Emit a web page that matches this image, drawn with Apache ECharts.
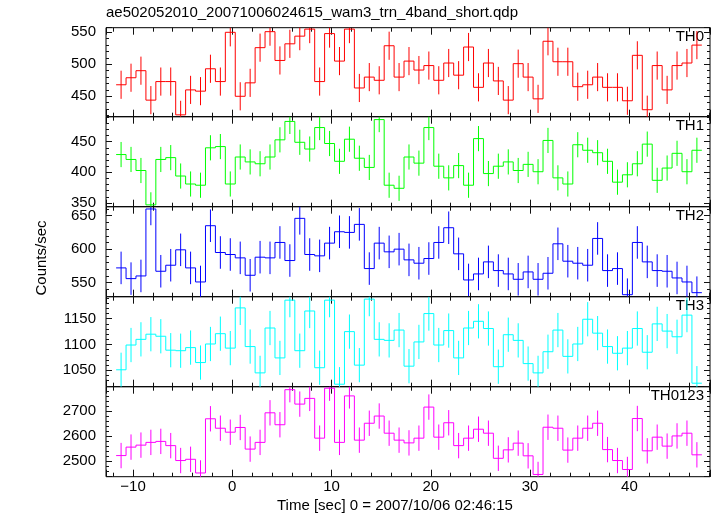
<!DOCTYPE html>
<html><head><meta charset="utf-8">
<script src="https://cdn.jsdelivr.net/npm/echarts@6/dist/echarts.min.js"></script>
<style>html,body{margin:0;padding:0;background:#fff}#c{width:717px;height:516px}</style>
</head><body><div id="c"></div>
<script>
// bin centre times [sec]
const time = [-11.2,-10.2,-9.2,-8.2,-7.2,-6.2,-5.2,-4.2,-3.2,-2.2,
  -1.2,-0.2,0.8,1.8,2.8,3.8,4.8,5.8,6.8,7.8,
  8.8,9.8,10.8,11.8,12.8,13.8,14.8,15.8,16.8,17.8,
  18.8,19.8,20.8,21.8,22.8,23.8,24.8,25.8,26.8,27.8,
  28.8,29.8,30.8,31.8,32.8,33.8,34.8,35.8,36.8,37.8,
  38.8,39.8,40.8,41.8,42.8,43.8,44.8,45.8,46.8];
const th0 = [468,479,490,444,473,473,421,460,458,493,
  473,550,450,471,526,551,506,532,544,555,
  473,548,505,555,463,480,475,529,480,505,
  491,498,475,502,483,527,464,502,474,444,
  501,480,446,536,504,504,465,468,480,464,
  464,443,514,429,498,460,498,502,530];
const th1 = [429,421,403,347,421,424,394,381,379,440,
  442,381,425,417,414,425,453,483,449,438,
  473,447,418,454,423,408,486,379,374,425,
  415,473,410,391,411,379,455,398,410,417,
  403,413,401,452,391,381,445,436,432,418,
  384,396,414,446,387,407,431,401,436];
const th2 = [572,556,560,660,567,576,599,572,551,635,
  595,592,587,561,588,587,610,583,646,592,
  590,609,626,625,637,571,609,596,600,584,
  579,586,610,632,593,554,563,581,568,563,
  555,566,555,564,608,582,579,576,616,568,
  571,532,610,581,568,567,557,551,535];
const th3 = [1051,1099,1110,1120,1116,1089,1088,1094,1065,1101,
  1121,1093,1171,1096,1045,1132,1074,1186,1088,1165,
  1055,1186,1023,1125,1060,1188,1110,1108,1128,1058,
  1105,1160,1099,1127,1074,1132,1145,1131,1057,1119,
  1108,1063,1045,1086,1128,1077,1101,1149,1122,1096,
  1083,1093,1131,1085,1140,1126,1115,1157,1025];
const th0123 = [2522,2556,2564,2575,2579,2562,2502,2507,2452,2670,
  2632,2616,2635,2548,2575,2694,2646,2787,2729,2752,
  2592,2793,2575,2762,2584,2652,2681,2612,2584,2573,
  2592,2717,2596,2654,2562,2592,2628,2612,2511,2545,
  2572,2521,2446,2636,2632,2544,2592,2632,2652,2546,
  2502,2466,2671,2541,2596,2560,2601,2612,2525];
// 1-sigma errors (counts/sec)
const errTH0 = 22, errTH1 = 20.5, errTH2 = 24.3, errTH3 = 33.2, errTH0123 = 51;
const binWidth = 1;
const panelNames = ['TH0','TH1','TH2','TH3','TH0123'];
const xMin = -12.72, xMax = 48.12;

const FONT = 'Liberation Sans, Arial, Helvetica, sans-serif';
const panels = [
  {name:'TH0', data:th0, err:errTH0, color:'#ff0000', min:418.1, max:557.2, major:3, minor:14, step:50},
  {name:'TH1', data:th1, err:errTH1, color:'#00ff00', min:344.0, max:490.7, major:3, minor:14, step:50},
  {name:'TH2', data:th2, err:errTH2, color:'#0000ff', min:529.0, max:663.4, major:3, minor:14, step:50},
  {name:'TH3', data:th3, err:errTH3, color:'#00ffff', min:1018.2, max:1192.7, major:4, minor:17, step:50},
  {name:'TH0123', data:th0123, err:errTH0123, color:'#ff00ff', min:2437, max:2799, major:4, minor:18, step:100}
];
const tops = [27.7, 116.7, 206.7, 296.7, 386.7];
const heights = [89, 90, 90, 90, 90];

const grids = [], xAxes = [], yAxes = [], series = [], graphics = [];
const tickColor = '#111';
const noLine = {show:false, onZero:false};
panels.forEach((p, k) => {
  grids.push({left:106, right:7, top:tops[k], height:heights[k], show:true,
    borderColor:'#000', borderWidth:1, backgroundColor:'transparent', containLabel:false});
  const isBottom = (k === panels.length - 1);
  const xBase = {type:'value', gridIndex:k, min:xMin, max:xMax, splitLine:{show:false}, axisLine:noLine};
  xAxes.push(Object.assign({}, xBase, {position:'bottom', splitNumber:6,
    axisTick:{show:true, inside:true, length:7, lineStyle:{color:tickColor}},
    axisLabel:{show:isBottom, margin:3, color:'#000', fontSize:15, fontFamily:FONT,
      formatter: v => (Math.abs(v/10 - Math.round(v/10)) < 1e-6) ? (v < 0 ? '\u2212' + (-v) : String(v)) : ''}}));
  xAxes.push(Object.assign({}, xBase, {position:'bottom', splitNumber:30,
    axisTick:{show:true, inside:true, length:4, lineStyle:{color:tickColor}}, axisLabel:{show:false}}));
  xAxes.push(Object.assign({}, xBase, {position:'top', splitNumber:6,
    axisTick:{show:true, inside:true, length:7, lineStyle:{color:tickColor}}, axisLabel:{show:false}}));
  xAxes.push(Object.assign({}, xBase, {position:'top', splitNumber:30,
    axisTick:{show:true, inside:true, length:4, lineStyle:{color:tickColor}}, axisLabel:{show:false}}));

  const yBase = {type:'value', gridIndex:k, min:p.min, max:p.max, splitLine:{show:false}, axisLine:noLine, scale:true};
  yAxes.push(Object.assign({}, yBase, {position:'left', splitNumber:p.major,
    axisTick:{show:true, inside:true, length:6, lineStyle:{color:tickColor}},
    axisLabel:{show:true, margin:10, color:'#000', fontSize:15, fontFamily:FONT,
      formatter: v => (Math.abs(v/p.step - Math.round(v/p.step)) < 1e-6) ? String(Math.round(v)) : ''}}));
  yAxes.push(Object.assign({}, yBase, {position:'left', splitNumber:p.minor,
    axisTick:{show:true, inside:true, length:3, lineStyle:{color:tickColor}}, axisLabel:{show:false}}));
  yAxes.push(Object.assign({}, yBase, {position:'right', splitNumber:p.major,
    axisTick:{show:true, inside:true, length:6, lineStyle:{color:tickColor}}, axisLabel:{show:false}}));
  yAxes.push(Object.assign({}, yBase, {position:'right', splitNumber:p.minor,
    axisTick:{show:true, inside:true, length:3, lineStyle:{color:tickColor}}, axisLabel:{show:false}}));

  const vals = p.data;
  const n = vals.length;
  const stroke = {stroke:p.color, lineWidth:1};
  series.push({
    type:'custom', name:p.name, xAxisIndex:4*k, yAxisIndex:4*k, clip:true,
    data: time.map((t, i) => [t, vals[i]]),
    encode:{x:0, y:1},
    renderItem: function(params, api) {
      const i = params.dataIndex;
      const t = api.value(0), v = api.value(1);
      const a = api.coord([t - binWidth/2, v]);
      const b = api.coord([t + binWidth/2, v]);
      const children = [
        {type:'line', shape:{x1:a[0], y1:a[1], x2:b[0], y2:b[1]}, style:stroke}
      ];
      if (i < n - 1) {
        const c = api.coord([t + binWidth/2, vals[i+1]]);
        children.push({type:'line', shape:{x1:b[0], y1:b[1], x2:c[0], y2:c[1]}, style:stroke});
      }
      const lo = api.coord([t, v - p.err]);
      const hi = api.coord([t, v + p.err]);
      children.push({type:'line', shape:{x1:lo[0], y1:lo[1], x2:hi[0], y2:hi[1]}, style:stroke});
      return {type:'group', children:children};
    }
  });

  graphics.push({type:'text', right:13, top:tops[k] + 1.5,
    style:{text:p.name, font:'15px ' + FONT, fill:'#000'}});
});

graphics.push({type:'text', left:106, top:5,
  style:{text:'ae502052010_20071006024615_wam3_trn_4band_short.qdp', font:'15px ' + FONT, fill:'#000'}});
graphics.push({type:'text', left:277, top:498,
  style:{text:'Time [sec] 0 = 2007/10/06 02:46:15', font:'15px ' + FONT, fill:'#000'}});
graphics.push({type:'text', x:34, y:258, rotation:Math.PI/2,
  style:{text:'Counts/sec', font:'15px ' + FONT, fill:'#000', align:'center', verticalAlign:'top'}});

const chart = echarts.init(document.getElementById('c'), null, {renderer:'canvas'});
chart.setOption({
  animation:false,
  backgroundColor:'#fff',
  grid:grids, xAxis:xAxes, yAxis:yAxes, series:series, graphic:graphics
});
</script></body></html>
